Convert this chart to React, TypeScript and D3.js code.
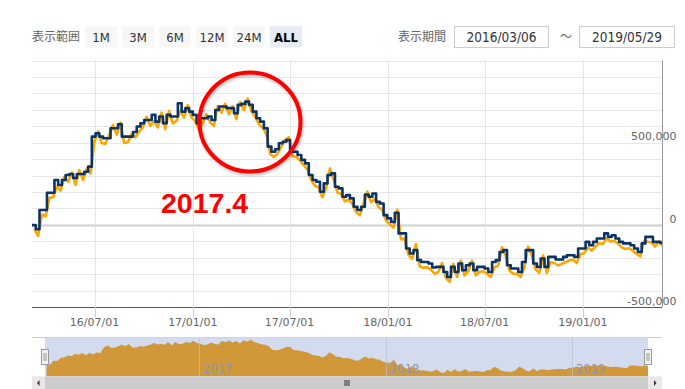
import React from "react";
import * as d3 from "d3";

// ---- data (values in thousands) ----
const startDate = new Date(2016, 2, 6);
const endDate = new Date(2019, 4, 29);

const navyK = [
  -2, -26, 90, 90, 195, 195, 273, 242, 273, 303, 309, 285, 309, 309, 323, 354,
  537, 557, 537, 527, 527, 588, 588, 612, 537, 537, 537, 565, 598, 618, 638, 638,
  669, 628, 659, 618, 669, 659, 659, 740, 689, 710, 689, 669, 618, 649, 649, 659,
  638, 699, 720, 720, 710, 710, 679, 730, 736, 750, 730, 689, 649, 628, 588, 476,
  445, 460, 496, 506, 516, 445, 445, 425, 395, 374, 303, 273, 262, 201, 252, 303,
  313, 232, 222, 171, 181, 161, 110, 90, 110, 184, 171, 191, 140, 130, 59, 39,
  18, 73, -52, -52, -144, -174, -154, -215, -226, -226, -235, -260, -256, -256, -287, -317,
  -256, -287, -235, -276, -246, -235, -276, -256, -256, -266, -287, -226, -215, -165, -154, -246,
  -266, -266, -287, -226, -154, -154, -235, -256, -205, -256, -195, -195, -211, -211, -195, -185,
  -185, -195, -144, -144, -104, -124, -104, -83, -83, -52, -73, -63, -83, -104, -113, -113,
  -124, -144, -165, -113, -73, -73, -104, -104, -110,
];

const orangeK = [
  -20, -60, 70, 60, 170, 175, 240, 215, 300, 270, 325, 250, 340, 280, 350, 320,
  510, 575, 505, 500, 555, 615, 555, 630, 505, 510, 560, 540, 575, 600, 665, 610,
  640, 600, 690, 590, 700, 625, 640, 700, 660, 735, 660, 640, 585, 625, 680, 630,
  610, 730, 690, 745, 680, 730, 650, 755, 705, 775, 700, 665, 620, 600, 560, 440,
  420, 440, 480, 525, 540, 425, 420, 400, 370, 345, 280, 245, 235, 175, 230, 350,
  285, 205, 195, 150, 160, 135, 85, 65, 135, 210, 145, 165, 115, 100, 35, 10,
  -10, 100, -80, -75, -175, -200, -110, -245, -255, -250, -265, -290, -280, -225, -315, -340,
  -230, -310, -210, -300, -275, -210, -300, -280, -275, -290, -310, -250, -240, -130, -180, -270,
  -290, -290, -310, -250, -125, -180, -265, -285, -180, -285, -220, -225, -240, -230, -220, -210,
  -205, -225, -170, -165, -130, -150, -125, -105, -110, -75, -95, -90, -105, -130, -140, -135,
  -150, -170, -185, -90, -95, -100, -125, -95, -120,
];

const yTickLabels = [-500000, 0, 500000];
const rangeButtons = ["1M", "3M", "6M", "12M", "24M", "ALL"];
const navYears = [2017, 2018, 2019];

// ---- layout ----
const W = 685;
const H = 389;
const PL = 32, PR = 662, PT = 60.5, PB = 307;
const NL = 45, NR = 648, NT = 337.5, NB = 376.5;

type Pt = { date: Date; v: number };

export default function App() {
  const x = d3.scaleTime().domain([startDate, endDate]).range([PL, PR]);
  const y = d3.scaleLinear().domain([-500000, 1000000]).range([PB, PT]);
  const nx = d3.scaleTime().domain([startDate, endDate]).range([NL, NR]);
  const ny = d3.scaleLinear().domain([-460000, 780000]).range([NB, NT + 2]);

  const navyPts: Pt[] = navyK.map((v, k) => ({ date: d3.timeDay.offset(startDate, 7 * k), v: v * 1000 }));
  navyPts.push({ date: endDate, v: navyK[navyK.length - 1] * 1000 });
  const orangePts: Pt[] = orangeK.map((v, k) => ({ date: d3.timeDay.offset(startDate, 7 * k + 3), v: v * 1000 }));

  const navyLine = d3.line<Pt>().x((d) => x(d.date)).y((d) => y(d.v)).curve(d3.curveStepAfter);
  const orangeLine = d3.line<Pt>().x((d) => x(d.date)).y((d) => y(d.v));
  const navArea = d3
    .area<Pt>()
    .x((d) => nx(d.date))
    .y0(NB)
    .y1((d) => ny(d.v));

  const gridVals = d3.range(-500000, 1000001, 100000);
  const xTicks = x.ticks(d3.timeMonth.every(6) as any).filter((d) => d > startDate && d < endDate);
  const fmtX = d3.timeFormat("%y/%m/%d");
  const fmtY = (v: number) => d3.format(",")(v).replace("\u2212", "-");

  const uiFont = "'Liberation Sans Narrow', 'DejaVu Sans Condensed', 'Liberation Sans', Arial, sans-serif";
  const axisFont = "'DejaVu Sans', 'Lucida Grande', sans-serif";

  const btnX = [85, 122, 159, 196, 233, 270];

  return (
    <svg width={W} height={H} style={{ position: "absolute", left: 0, top: 0, background: "#fff" }}>
      <defs>
        <clipPath id="plotClip">
          <rect x={PL} y={PT - 2} width={PR - PL} height={PB - PT + 2} />
        </clipPath>
        <filter id="shadow" x="-20%" y="-20%" width="140%" height="140%">
          <feDropShadow dx="1" dy="2" stdDeviation="1.5" floodColor="#000" floodOpacity="0.25" />
        </filter>
      </defs>
      <rect width={W} height={H} fill="#fff" />

      {/* top controls */}
      <text x={32} y={40.5} fontSize={12} fill="#666" fontFamily="'Noto Sans CJK JP', sans-serif">表示範囲</text>
      {rangeButtons.map((b, i) => {
        const sel = b === "ALL";
        return (
          <g key={b}>
            <rect x={btnX[i]} y={26} width={32} height={21.5} rx={2} fill={sel ? "#e6ebf5" : "#f7f7f7"} />
            <text
              x={btnX[i] + 16}
              y={41.5}
              textAnchor="middle"
              fontSize={13}
              fontWeight={sel ? "bold" : "normal"}
              fill={sel ? "#000" : "#333"}
              fontFamily={uiFont}
            >
              {b}
            </text>
          </g>
        );
      })}
      <text x={398} y={40.5} fontSize={12} fill="#666" fontFamily="'Noto Sans CJK JP', sans-serif">表示期間</text>
      <rect x={454.5} y={26.5} width={94} height={21} fill="#fff" stroke="#ccc" />
      <text x={501.5} y={41.5} textAnchor="middle" fontSize={13.5} fill="#333" fontFamily={uiFont}>2016/03/06</text>
      <text x={566} y={41} textAnchor="middle" fontSize={12} fill="#666" fontFamily="'Noto Sans CJK JP', sans-serif">〜</text>
      <rect x={579.5} y={26.5} width={95} height={21} fill="#fff" stroke="#ccc" />
      <text x={627} y={41.5} textAnchor="middle" fontSize={13.5} fill="#333" fontFamily={uiFont}>2019/05/29</text>

      {/* grid */}
      {gridVals.map((v) => (
        <line
          key={v}
          x1={PL}
          x2={PR}
          y1={Math.round(y(v)) + 0.5}
          y2={Math.round(y(v)) + 0.5}
          stroke={v === 0 ? "#d0d0d0" : "#e6e6e6"}
          strokeWidth={v === 0 ? 2 : 1}
        />
      ))}
      {xTicks.map((d) => (
        <line key={+d} x1={Math.round(x(d)) + 0.5} x2={Math.round(x(d)) + 0.5} y1={PT} y2={PB} stroke="#e6e6e6" />
      ))}

      {/* series */}
      <g clipPath="url(#plotClip)">
        <path
          d={orangeLine(orangePts) || ""}
          fill="none"
          stroke="#ffa500"
          strokeWidth={2.6}
          strokeLinejoin="round"
          transform="translate(0.8,1.2)"
        />
        <path d={navyLine(navyPts) || ""} fill="none" stroke="#0b3467" strokeWidth={2.6} strokeLinejoin="round" />
      </g>

      {/* axes */}
      <line x1={PL} x2={PR} y1={PB + 0.5} y2={PB + 0.5} stroke="#555" />
      <line x1={PR + 0.5} x2={PR + 0.5} y1={PT} y2={PB} stroke="#999" />
      {xTicks.map((d) => (
        <g key={+d}>
          <line x1={Math.round(x(d)) + 0.5} x2={Math.round(x(d)) + 0.5} y1={PB} y2={PB + 10} stroke="#ccc" />
          <text x={x(d)} y={326} textAnchor="middle" fontSize={11} fill="#666" fontFamily={axisFont}>
            {fmtX(d)}
          </text>
        </g>
      ))}
      {yTickLabels.map((v) => (
        <text key={v} x={676.5} y={y(v) - 2.3} textAnchor="end" fontSize={11} fill="#666" fontFamily={axisFont}>
          {fmtY(v)}
        </text>
      ))}

      {/* annotation */}
      <ellipse cx={250} cy={122} rx={50.5} ry={49.5} fill="none" stroke="#f00" strokeWidth={4} filter="url(#shadow)" />
      <text x={161} y={212.7} fontSize={28.5} fontWeight="bold" fill="#f00" fontFamily="'Liberation Sans', Arial, sans-serif">
        2017.4
      </text>

      {/* navigator */}
      <line x1={PL} x2={PR} y1={NT} y2={NT} stroke="#ccc" />
      <rect x={NL} y={NT} width={NR - NL} height={NB - NT} fill="#d3dcee" />
      <path d={navArea(orangePts) || ""} fill="#d09838" />
      {navYears.map((yr) => {
        const d = new Date(yr, 0, 1);
        const px = Math.round(nx(d)) + 0.5;
        return (
          <g key={yr}>
            <line x1={px} x2={px} y1={NT} y2={NB} stroke="#b8c2d8" strokeOpacity={0.7} />
            <text x={px + 3.5} y={372.5} fontSize={11.5} fill="#8f95a8" fontFamily={axisFont}>
              {yr}
            </text>
          </g>
        );
      })}
      {[NL, NR].map((hx) => (
        <g key={hx}>
          <rect x={hx - 3.5} y={349.5} width={7} height={15} fill="#f2f2f2" stroke="#999" />
          <line x1={hx - 1} x2={hx - 1} y1={353} y2={361} stroke="#999" />
          <line x1={hx + 1} x2={hx + 1} y1={353} y2={361} stroke="#999" />
        </g>
      ))}

      {/* scrollbar */}
      <rect x={PL} y={NB} width={PR - PL} height={H - NB} fill="#f0f0f0" />
      <rect x={NL} y={NB} width={NR - NL} height={H - NB} fill="#cccccc" />
      <rect x={PL} y={NB} width={NL - PL} height={H - NB} fill="#ebe7e8" />
      <rect x={NR} y={NB} width={PR - NR} height={H - NB} fill="#ebe7e8" />
      <path d={`M${PL + 7.5},${380} L${PL + 5},${383} L${PL + 7.5},${386} Z`} fill="#333" />
      <path d={`M${NR + 6},${380} L${NR + 8.5},${383} L${NR + 6},${386} Z`} fill="#333" />
      {[-2, 0, 2].map((o) => (
        <line key={o} x1={(NL + NR) / 2 + o + 0.5} x2={(NL + NR) / 2 + o + 0.5} y1={380} y2={386} stroke="#333" />
      ))}
    </svg>
  );
}
